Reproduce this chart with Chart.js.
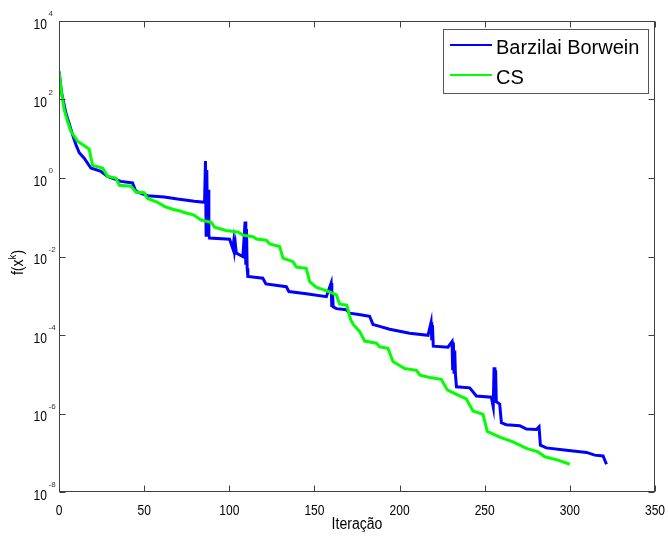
<!DOCTYPE html>
<html>
<head>
<meta charset="utf-8">
<script src="https://cdn.jsdelivr.net/npm/chart.js@4/dist/chart.umd.min.js"></script>
<style>
  html, body { margin: 0; padding: 0; background: #ffffff; }
  canvas { display: block; }
</style>
</head>
<body>
<canvas id="chart" width="668" height="538"></canvas>
<script>
// Objective value per iteration, Barzilai Borwein method
const bbIter = [0, 1.5, 4, 7.9, 9.9, 11.9, 14.8, 18.7, 24.6, 28.5, 36.3, 43.2, 45.1, 52, 61.8, 69.6, 79.4, 85.5,
  86.0, 86.4, 86.8, 87.2, 87.6, 88.0, 88.4, 100.2, 102.1, 102.6, 103.1, 103.6, 104.1, 108,
  109.3, 109.7, 110.1, 110.5, 110.9, 119.7, 121.5, 133.5, 135, 145.2, 157,
  159.8, 160.2, 160.6, 161, 162.9, 168.7, 170.7, 177, 182.4, 184.4, 188.3, 194.2, 205.9, 216.7,
  218.5, 218.9, 219.3, 219.8, 228.4, 230.8, 231.2, 231.6, 232, 232.4, 232.8, 233.4, 241.2, 245.1, 253.9,
  255, 255.5, 256, 256.4, 256.8, 258.8, 259.8, 262.7, 270.6, 274.5, 280.4, 281.9, 282.7, 286.2,
  298, 309.8, 314.6, 319.5, 321.5];
const bbValue = [5.2e2, 1.5e2, 46, 12.9, 7.1, 4.4, 3.2, 1.8, 1.48, 1.1, 0.82, 0.75, 0.46, 0.355, 0.33, 0.29, 0.254, 0.24,
  2.7, 0.035, 1.6, 0.05, 0.5, 0.035, 0.0295, 0.0275, 0.0158, 0.024, 0.0141, 0.02, 0.0123, 0.01,
  0.078, 0.0062, 0.05, 0.005, 0.0031, 0.0028, 0.002, 0.0017, 0.00128, 0.00112, 9.5e-4,
  2.1e-3, 5.2e-4, 1.26e-3, 5.2e-4, 4.7e-4, 4.4e-4, 3.6e-4, 3.3e-4, 3.0e-4, 1.86e-4, 1.66e-4, 1.4e-4, 1.11e-4, 9.8e-5,
  2.1e-4, 7.4e-5, 1.78e-4, 5.2e-5, 4.9e-5, 6.8e-5, 1.26e-5, 6.3e-5, 1.12e-5, 4.0e-5, 1.0e-5, 4.8e-6, 4.5e-6, 2.8e-6, 2.6e-6,
  1.48e-6, 1.5e-5, 2.5e-6, 1.26e-5, 2.0e-6, 1.74e-6, 5.8e-7, 5.2e-7, 4.9e-7, 4.0e-7, 3.9e-7, 4.6e-7, 1.56e-7, 1.33e-7,
  1.16e-7, 1.02e-7, 8.7e-8, 8.3e-8, 5.1e-8];

// Objective value per iteration, CS method
const csIter = [0, 1.5, 3, 5, 7, 10.9, 17.7, 19.7, 25.6, 28.5, 33.4, 35.4, 42.2, 45.1, 50, 52, 57.9, 61.8, 66.7,
  71, 74, 79, 83.4, 89.4, 91.4, 98, 105, 108, 114, 116, 121.7, 123.7, 129.6, 131.5, 137.4, 139.4,
  145.2, 147.2, 151, 158.9, 162.9, 164.8, 169, 171.2, 173, 176.6, 179.5, 186.4, 188.3, 193.2, 196.1,
  203, 209.9, 212, 217.7, 224.5, 228, 234.3, 239.2, 243.1, 249, 251.5, 258.8, 266.6, 274.5, 281.3,
  285.3, 293.1, 300];
const csValue = [5.2e2, 1.5e2, 56, 28, 15.5, 8.7, 5.5, 2.1, 1.8, 1.1, 1.0, 0.65, 0.62, 0.44, 0.42, 0.30, 0.24, 0.19, 0.16,
  0.145, 0.13, 0.115, 0.085, 0.074, 0.056, 0.046, 0.042, 0.035, 0.032, 0.028, 0.026, 0.021, 0.018, 0.0091, 0.0074, 0.0054,
  0.0050, 0.0023, 0.00166, 0.00126, 0.00105, 6.1e-4, 5.8e-4, 2.5e-4, 1.8e-4, 1.22e-4, 7.0e-5, 6.2e-5, 5.0e-5, 4.6e-5, 2.1e-5,
  1.4e-5, 1.26e-5, 9.5e-6, 8.3e-6, 7.4e-6, 4.0e-6, 2.95e-6, 2.35e-6, 1.16e-6, 9.5e-7, 3.5e-7, 2.5e-7, 1.9e-7, 1.29e-7, 1.05e-7,
  7.9e-8, 6.5e-8, 5.1e-8];

const xTicks = [0, 50, 100, 150, 200, 250, 300, 350];
const yExponents = [4, 2, 0, -2, -4, -6, -8];
const seriesNames = ['Barzilai Borwein', 'CS'];
const seriesColors = ['#0000ff', '#00ff00'];
const xTitle = 'Iteração';
const yTitleParts = ['f(x', 'k', ')'];

const FONT = '"Liberation Sans", Arial, Helvetica, sans-serif';
const AXIS_COLOR = '#404040';
const TICK_LEN = 6;

function toPoints(xs, ys) {
  return xs.map((x, i) => ({ x: x, y: ys[i] }));
}

// Draw text with a horizontal squeeze (narrow sans look)
function drawText(ctx, text, x, y, size, align, squeeze, color) {
  ctx.save();
  ctx.translate(x, y);
  ctx.scale(squeeze, 1);
  ctx.font = size + 'px ' + FONT;
  ctx.textAlign = align;
  ctx.textBaseline = 'alphabetic';
  ctx.fillStyle = color || '#000';
  ctx.fillText(text, 0, 0);
  ctx.restore();
}

// Box axes with inward ticks, tick labels (10 with raised exponent) and axis titles
const axesFrame = {
  id: 'axesFrame',
  afterDatasetsDraw(chart) {
    const ctx = chart.ctx;
    const area = chart.chartArea;
    const xs = chart.scales.x;
    const ys = chart.scales.y;
    const L = Math.round(area.left) + 0.5;
    const R = Math.round(area.right) - 0.5;
    const T = Math.round(area.top) + 0.5;
    const B = Math.round(area.bottom) - 0.5;

    ctx.save();
    ctx.strokeStyle = AXIS_COLOR;
    ctx.lineWidth = 1;
    ctx.strokeRect(L, T, R - L, B - T);

    ctx.beginPath();
    xTicks.forEach(v => {
      const px = Math.round(xs.getPixelForValue(v)) + 0.5;
      ctx.moveTo(px, B); ctx.lineTo(px, B - TICK_LEN);
      ctx.moveTo(px, T); ctx.lineTo(px, T + TICK_LEN);
    });
    yExponents.forEach(e => {
      const py = Math.round(ys.getPixelForValue(Math.pow(10, e))) + 0.5;
      ctx.moveTo(L, py); ctx.lineTo(L + TICK_LEN, py);
      ctx.moveTo(R, py); ctx.lineTo(R - TICK_LEN, py);
    });
    ctx.stroke();

    // x tick labels
    xTicks.forEach(v => {
      drawText(ctx, String(v), xs.getPixelForValue(v), 515, 14, 'center', 0.86);
    });

    // y tick labels: 10 with the exponent raised
    yExponents.forEach(e => {
      const py = ys.getPixelForValue(Math.pow(10, e));
      drawText(ctx, '10', 47, py + 7.5, 14, 'right', 0.86);
      drawText(ctx, String(e), 48.5, py - 5, 8, 'left', 1, '#333');
    });

    // x axis title
    drawText(ctx, xTitle, (area.left + area.right) / 2, 529, 16, 'center', 0.88);

    // y axis title, rotated, with superscript k
    ctx.save();
    ctx.translate(23, (area.top + area.bottom) / 2 + 6);
    ctx.rotate(-Math.PI / 2);
    ctx.scale(0.88, 1);
    ctx.fillStyle = '#000';
    ctx.textAlign = 'left';
    ctx.font = '16px ' + FONT;
    const w1 = ctx.measureText(yTitleParts[0]).width;
    const w3 = ctx.measureText(yTitleParts[2]).width;
    ctx.font = '11px ' + FONT;
    const w2 = ctx.measureText(yTitleParts[1]).width;
    const sx = -(w1 + w2 + w3) / 2;
    ctx.font = '16px ' + FONT;
    ctx.fillText(yTitleParts[0], sx, 0);
    ctx.font = '11px ' + FONT;
    ctx.fillText(yTitleParts[1], sx + w1, -7);
    ctx.font = '16px ' + FONT;
    ctx.fillText(yTitleParts[2], sx + w1 + w2, 0);
    ctx.restore();

    // legend box
    const lx = 443.5, ly = 29.5, lw = 205, lh = 64;
    ctx.fillStyle = '#fff';
    ctx.fillRect(lx, ly, lw, lh);
    ctx.strokeStyle = '#555';
    ctx.strokeRect(lx, ly, lw, lh);
    seriesNames.forEach((name, i) => {
      const yLine = 45 + i * 30;
      ctx.strokeStyle = seriesColors[i];
      ctx.lineWidth = 2;
      ctx.beginPath();
      ctx.moveTo(450, yLine);
      ctx.lineTo(492, yLine);
      ctx.stroke();
      drawText(ctx, name, 496, yLine + 9, 20, 'left', 1);
    });
    ctx.restore();
  }
};

new Chart(document.getElementById('chart'), {
  type: 'scatter',
  data: {
    datasets: [
      {
        label: seriesNames[1],
        data: toPoints(csIter, csValue),
        showLine: true,
        borderColor: seriesColors[1],
        backgroundColor: seriesColors[1],
        borderWidth: 3,
        pointRadius: 0,
        tension: 0
      },
      {
        label: seriesNames[0],
        data: toPoints(bbIter, bbValue),
        showLine: true,
        borderColor: seriesColors[0],
        backgroundColor: seriesColors[0],
        borderWidth: 3,
        pointRadius: 0,
        tension: 0
      }
    ]
  },
  options: {
    responsive: false,
    animation: false,
    devicePixelRatio: 1,
    layout: { padding: { left: 59, right: 13, top: 21, bottom: 46 } },
    scales: {
      x: { type: 'linear', min: 0, max: 350, display: false },
      y: { type: 'logarithmic', min: 1e-8, max: 1e4, display: false }
    },
    plugins: {
      legend: { display: false },
      tooltip: { enabled: false }
    }
  },
  plugins: [axesFrame]
});
</script>
</body>
</html>
